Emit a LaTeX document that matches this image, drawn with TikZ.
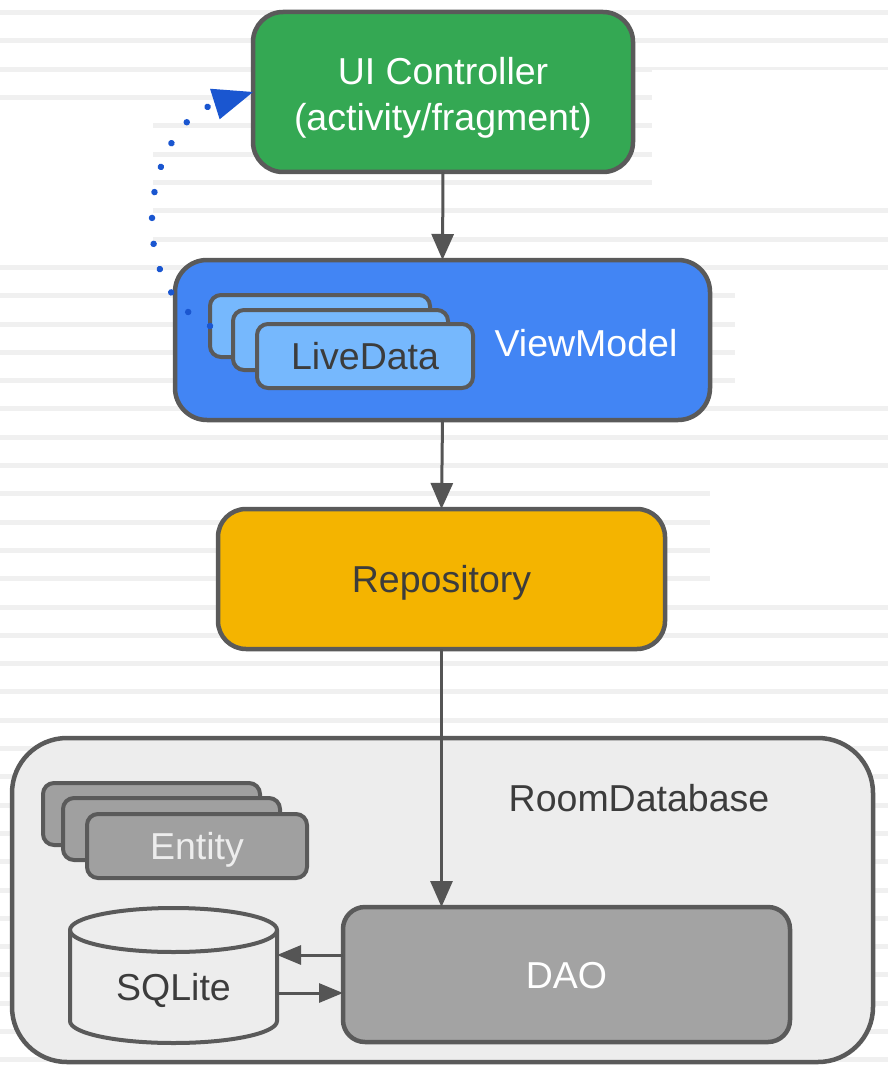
\documentclass[tikz,border=0pt]{standalone}
\usepackage{fontspec}
\setmainfont{Liberation Sans}
\usetikzlibrary{arrows.meta,calc}
\definecolor{bordergray}{HTML}{5A5A5A}
\definecolor{arrowgray}{HTML}{555555}
\definecolor{uigreen}{HTML}{34A853}
\definecolor{vmblue}{HTML}{4285F4}
\definecolor{ldblue}{HTML}{76B8FD}
\definecolor{repoyellow}{HTML}{F4B400}
\definecolor{roomfill}{HTML}{EDEDED}
\definecolor{daogray}{HTML}{A3A3A3}
\definecolor{entgray}{HTML}{A0A0A0}
\definecolor{darktext}{HTML}{3C3C3C}
\definecolor{dotblue}{HTML}{1A56D0}
\definecolor{stripegray}{HTML}{F0F0F0}
\tikzset{
  box/.style={draw=bordergray, line width=4.5pt, outer sep=0pt, inner sep=0pt,
    font=\fontsize{37.5}{45}\selectfont, text height=27pt, text depth=0pt},
  card/.style={draw=bordergray, line width=4pt, outer sep=0pt, inner sep=0pt,
    rounded corners=11pt, font=\fontsize{37.5}{45}\selectfont,
    text height=27pt, text depth=0pt},
  lbl/.style={inner sep=0pt, font=\fontsize{37.5}{45}\selectfont,
    text height=27pt, text depth=0pt},
  mlbl/.style={inner sep=0pt, font=\fontsize{37.5}{46}\selectfont, align=center},
  arr/.style={draw=arrowgray, line width=3pt, -{Triangle[length=26pt,width=22pt]}},
  smallarr/.style={draw=arrowgray, line width=3pt, -{Triangle[length=24pt,width=19pt]}},
  stripe/.style={draw=stripegray, line width=5pt},
  dotarrow/.style={draw=dotblue, line width=6.5pt, line cap=round,
    dash pattern=on 0.01pt off 26pt,
    -{Triangle[length=40pt,width=32pt,fill=dotblue,line width=0pt]}}
}
\begin{document}
\begin{tikzpicture}[x=1pt,y=-1pt]
\useasboundingbox (0,0) rectangle (888,1078);
\fill[white] (0,0) rectangle (888,1078);
% faint background stripes
\foreach \i in {0,...,37} {
  \draw[stripe] (0,{12.7+28.3*\i}) -- (888,{12.7+28.3*\i});
}
\fill[white] (0,121) rectangle (153,258);
\fill[white] (652,70) rectangle (888,188);
\fill[white] (735,282) rectangle (888,395);
\fill[white] (710,482) rectangle (888,594);

% main boxes
\node[box, fill=uigreen, rounded corners=30pt,
  minimum width=380pt, minimum height=160pt] (ui) at (443,92) {};
\node[mlbl, text=white] (uitext) at (443,98) {UI Controller\\(activity/fragment)};

\node[box, fill=vmblue, rounded corners=32pt,
  minimum width=535pt, minimum height=160pt] (vm) at (442.5,340) {};
\node[card, fill=ldblue, minimum width=220pt, minimum height=62pt] (ld1) at (320,326) {};
\node[card, fill=ldblue, minimum width=215pt, minimum height=60pt] (ld2) at (340.5,340) {};
\node[card, fill=ldblue, text=darktext, minimum width=216pt, minimum height=64pt] (ld3) at (365,356) {LiveData};
\node[lbl, text=white] (vmtext) at (586,343) {ViewModel};

\node[box, fill=repoyellow, text=darktext, rounded corners=28pt,
  minimum width=447pt, minimum height=140pt] (repo) at (441.5,579) {Repository};

\node[box, fill=roomfill, rounded corners=55pt,
  minimum width=861pt, minimum height=324pt] (room) at (442.5,900) {};
\node[lbl, text=darktext] (roomtext) at (639,798) {RoomDatabase};

\node[card, fill=entgray, minimum width=217pt, minimum height=62pt] (e1) at (151.5,814) {};
\node[card, fill=entgray, minimum width=217pt, minimum height=62pt] (e2) at (171.5,829) {};
\node[card, fill=entgray, text=roomfill, minimum width=220pt, minimum height=64pt] (e3) at (197,846) {Entity};

% SQLite cylinder
\filldraw[fill=roomfill, draw=bordergray, line width=4pt]
  (70,930) -- (70,1021) arc[start angle=180, end angle=360, x radius=103.5pt, y radius=22pt]
  -- (277,930) arc[start angle=0, end angle=180, x radius=103.5pt, y radius=22pt] -- cycle;
\draw[draw=bordergray, line width=4pt]
  (70,930) arc[start angle=180, end angle=360, x radius=103.5pt, y radius=22pt];
\node[lbl, text=darktext, minimum width=207pt, minimum height=136pt, outer sep=0pt] (sql) at (173.5,987) {SQLite};

\node[box, fill=daogray, text=white, rounded corners=22pt,
  minimum width=447pt, minimum height=135pt] (dao) at (566.5,974.5) {DAO};

% connectors
\draw[arr] (ui.south) -- (vm.north);
\draw[arr] (vm.south) -- (repo.north);
\draw[arr] (repo.south) -- (repo.south |- dao.north);
\coordinate (a1) at ([yshift=19.5pt]dao.west);
\coordinate (a2) at ([yshift=-18.5pt]dao.west);
\draw[smallarr] (a1) -- (a1 -| sql.east);
\draw[smallarr] (a2 -| sql.east) -- (a2);

% dotted observer arrow
\draw[dotarrow] (ld1.west) .. controls (120,285) and (145,126) .. (ui.west);
\end{tikzpicture}
\end{document}
